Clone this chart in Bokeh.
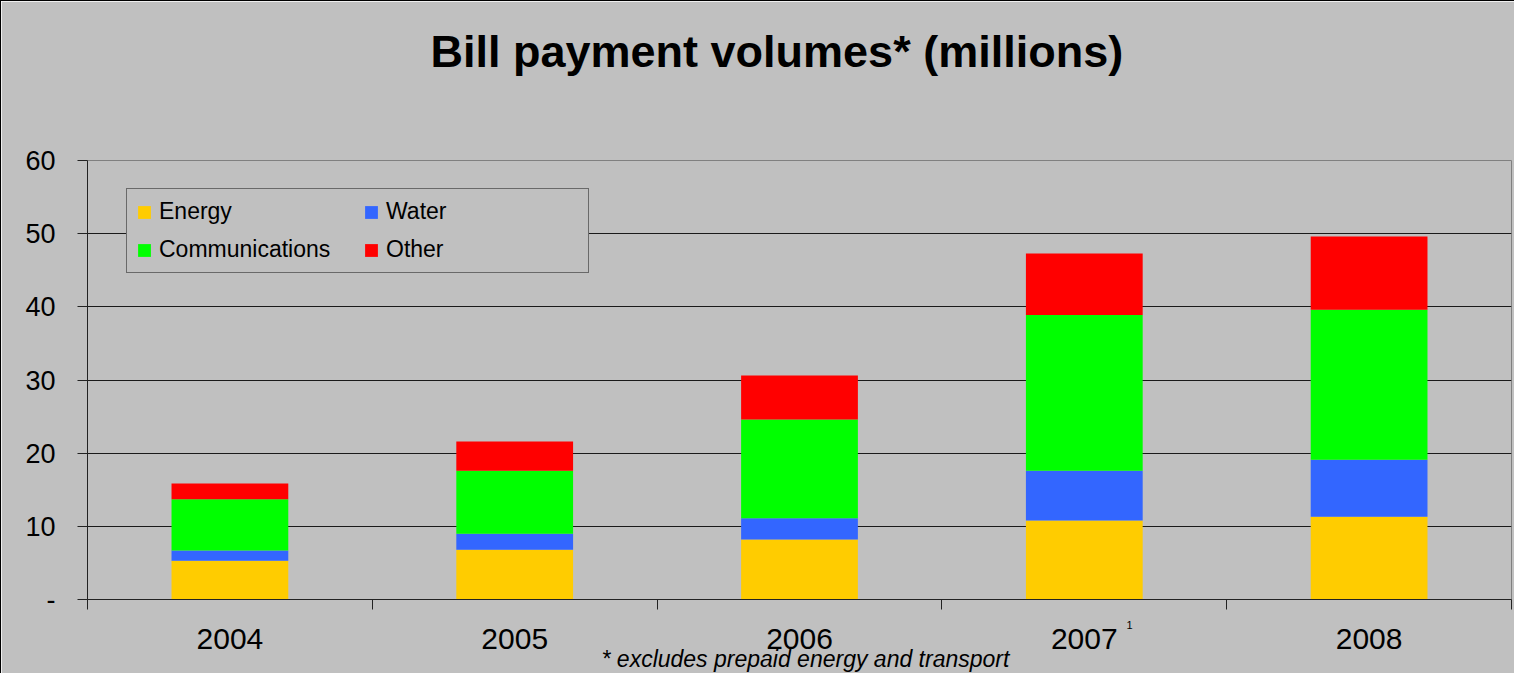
from bokeh.plotting import figure
from bokeh.models import (Range1d, FixedTicker, Legend, LegendItem, LinearAxis, Title)
from bokeh.embed import file_html
from bokeh.resources import INLINE

years = ["2004", "2005", "2006", "2007", "2008"]
energy = [5.3, 6.8, 8.2, 10.8, 11.3]
water = [1.4, 2.2, 2.9, 6.8, 7.8]
communications = [7.0, 8.6, 13.5, 21.3, 20.5]
other = [2.15, 4.0, 6.0, 8.4, 10.0]
series_names = ["Energy", "Water", "Communications", "Other"]
colors = ["#FFCC00", "#3366FF", "#00FF00", "#FF0000"]
y_ticks = [0, 10, 20, 30, 40, 50, 60]
y_tick_labels = ["-", "10", "20", "30", "40", "50", "60"]
footnote_year = "2007"

FONT = "Liberation Sans"
BG = "#C0C0C0"

p = figure(width=1514, height=673, output_backend="svg", toolbar_location=None,
           x_range=Range1d(0, len(years)), y_range=Range1d(0, 60),
           x_axis_location=None)
p.min_border_left = 86
p.min_border_right = 4
p.min_border_top = 159
p.min_border_bottom = 75
p.background_fill_color = BG
p.border_fill_color = BG
p.outline_line_color = "#808080"
p.outline_line_width = 1
p.styles = {"border-left": "1px solid #000", "border-top": "1px solid #000"}

centers = [i + 0.5 for i in range(len(years))]
data = dict(x=centers, Energy=energy, Water=water, Communications=communications, Other=other)
renderers = p.vbar_stack(series_names, x="x", width=0.41, color=colors, line_color=None,
                         source=data)

# y axis
p.yaxis.ticker = FixedTicker(ticks=y_ticks)
p.yaxis.major_label_overrides = {t: l for t, l in zip(y_ticks, y_tick_labels)}
p.yaxis.major_tick_out = 10
p.yaxis.major_tick_in = 0
p.yaxis.minor_tick_out = 0
p.yaxis.minor_tick_in = 0
p.yaxis.axis_line_color = "#222222"
p.yaxis.major_tick_line_color = "#222222"
p.yaxis.major_label_text_font = FONT
p.yaxis.major_label_text_font_size = "27px"
p.yaxis.major_label_text_color = "#000000"
p.yaxis.major_label_standoff = 22

# x axis 1: axis line, category boundary ticks, footnote mark "1"
sup_x = centers[years.index(footnote_year)] + 0.159
ax1 = LinearAxis(ticker=FixedTicker(ticks=[sup_x], minor_ticks=list(range(len(years) + 1))))
ax1.major_label_overrides = {sup_x: "1"}
ax1.major_tick_out = 0
ax1.major_tick_in = 0
ax1.minor_tick_out = 10
ax1.minor_tick_in = 0
ax1.minor_tick_line_color = "#222222"
ax1.axis_line_color = "#222222"
ax1.major_label_text_font = FONT
ax1.major_label_text_font_size = "11px"
ax1.major_label_text_color = "#000000"
ax1.major_label_standoff = 11
p.add_layout(ax1, "below")

# x axis 2: year labels
ax2 = LinearAxis(ticker=FixedTicker(ticks=centers, minor_ticks=[]))
ax2.major_label_overrides = {c: y for c, y in zip(centers, years)}
ax2.axis_line_color = None
ax2.major_tick_line_color = None
ax2.minor_tick_line_color = None
ax2.major_tick_out = 0
ax2.major_tick_in = 0
ax2.major_label_text_font = FONT
ax2.major_label_text_font_size = "30px"
ax2.major_label_text_color = "#000000"
ax2.major_label_standoff = -3
p.add_layout(ax2, "below")

p.xgrid.visible = False
p.ygrid.ticker = FixedTicker(ticks=[10, 20, 30, 40, 50])
p.ygrid.grid_line_color = "#1a1a1a"
p.ygrid.grid_line_width = 1

# title (with a spacer panel between it and the frame) and footnote
p.add_layout(Title(text=" ", standoff=66, text_font=FONT, text_font_size="10px",
                   text_color=BG), "above")
p.add_layout(Title(text="Bill payment volumes* (millions)", align="left", offset=343,
                   standoff=10, text_font=FONT, text_font_size="45px",
                   text_font_style="bold", text_color="#000000"), "above")
p.add_layout(Title(text="* excludes prepaid energy and transport", align="left", offset=514,
                   vertical_align="top", standoff=-12, text_font=FONT, text_font_size="23px",
                   text_font_style="italic", text_color="#000000"), "below")

legend_order = [0, 2, 1, 3]
legend = Legend(items=[LegendItem(label=series_names[i], renderers=[renderers[i]]) for i in legend_order],
                location=(39, 326), ncols=2)
legend.label_text_font = FONT
legend.label_text_font_size = "23px"
legend.label_text_color = "#000000"
legend.glyph_width = 16
legend.glyph_height = 16
legend.label_standoff = 7
legend.label_width = 193
legend.label_height = 22
legend.spacing = 11
legend.padding = 9
legend.margin = 0
legend.border_line_color = "#111111"
legend.border_line_width = 1
legend.background_fill_color = BG
legend.background_fill_alpha = 1
p.add_layout(legend, "center")

open("out.html", "w").write(file_html(p, INLINE))
